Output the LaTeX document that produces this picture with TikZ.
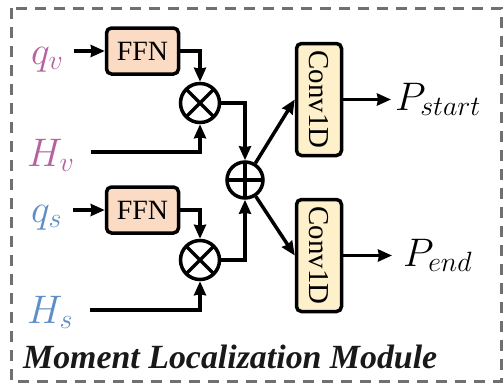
\RequirePackage{fix-cm}
\documentclass[tikz,border=0pt]{standalone}
\usepackage{fontspec}
\newfontfamily\titlefont{Liberation Serif}
\usetikzlibrary{arrows.meta, positioning, calc}
\definecolor{vispink}{RGB}{181,98,160}
\definecolor{txtblue}{RGB}{94,142,199}
\definecolor{ffnfill}{RGB}{251,219,196}
\definecolor{convfill}{RGB}{255,240,204}
\definecolor{framegray}{RGB}{112,112,112}
\tikzset{
  ffn/.style    = {rectangle, rounded corners=5bp, draw=black, line width=3.5bp,
                   fill=ffnfill, minimum width=72bp, minimum height=46bp,
                   inner sep=0pt, font=\titlefont\fontsize{28}{32}\selectfont},
  conv/.style   = {rectangle, rounded corners=5bp, draw=black, line width=3.5bp,
                   fill=convfill, minimum width=45bp, minimum height=112bp,
                   inner sep=0pt, font=\titlefont\fontsize{29}{32}\selectfont},
  mult/.style   = {circle, draw=black, line width=3.5bp, minimum size=39bp,
                   inner sep=0pt, path picture={
                     \draw[line width=3.5bp] (path picture bounding box.north west) -- (path picture bounding box.south east)
                       (path picture bounding box.north east) -- (path picture bounding box.south west);}},
  addop/.style  = {circle, draw=black, line width=3.5bp, minimum size=36bp,
                   inner sep=0pt, path picture={
                     \draw[line width=3.5bp] (path picture bounding box.north) -- (path picture bounding box.south)
                       (path picture bounding box.west) -- (path picture bounding box.east);}},
  arr/.style    = {-{Stealth[length=14bp, width=12bp, inset=1bp]}, line width=3.5bp},
  lbl/.style    = {font=\fontsize{40}{48}\selectfont, inner sep=0pt, anchor=base west},
}

\begin{document}
\begin{tikzpicture}[x=1bp, y=-1bp]
  \useasboundingbox (0,0) rectangle (504,388);
  \draw[framegray, line width=3bp, dash pattern=on 11bp off 8bp] (11,8) rectangle (501,381);

  % inputs
  \node[lbl, text=vispink] (qv) at (31,64) {$q_v$};
  \node[lbl, text=vispink] (hv) at (27,166) {$H_v$};
  \node[lbl, text=txtblue] (qs) at (31,222) {$q_s$};
  \node[lbl, text=txtblue] (hs) at (27,323) {$H_s$};

  \node[ffn] (ffnv) at (142.5,51) {FFN};
  \node[ffn] (ffns) at (142.5,210) {FFN};
  \node[mult] (mulv) at (200,103) {};
  \node[mult] (muls) at (200,260) {};
  \node[addop] (sum) at (245,180) {};

  \node[conv] (convs) at (319,99.5) {\rotatebox{-90}{Conv1D}};
  \node[conv] (conve) at (319,255.5) {\rotatebox{-90}{Conv1D}};

  \node[lbl] (pstart) at (395,110) {$P_{start}$};
  \node[lbl] (pend) at (403,266) {$P_{end}$};

  \draw[arr] ($(qv.east |- ffnv.west)+(11,0)$) -- (ffnv.west);
  \draw[arr] ($(qs.east |- ffns.west)+(11,0)$) -- (ffns.west);
  \draw[arr] (ffnv.east) -| (mulv.north);
  \draw[arr] (ffns.east) -| (muls.north);
  \draw[arr] ($(hv.base east)+(17,-14)$) -| (mulv.south);
  \draw[arr] ($(hs.base east)+(17,-13)$) -| (muls.south);
  \draw[arr] (mulv.east) -| (sum.north);
  \draw[arr] (muls.east) -| (sum.south);
  \draw[arr] (sum) -- (convs.west);
  \draw[arr] (sum) -- (conve.west);
  \draw[arr] (convs.east) -- ($(pstart.west |- convs.east)+(-4,0)$);
  \draw[arr] (conve.east) -- ($(pend.west |- conve.east)+(-11,0)$);

  \node[anchor=base west, inner sep=0pt, text=black!90,
        font=\titlefont\bfseries\itshape\fontsize{34}{40}\selectfont]
    (title) at (23,368) {Moment Localization Module};
\end{tikzpicture}
\end{document}
